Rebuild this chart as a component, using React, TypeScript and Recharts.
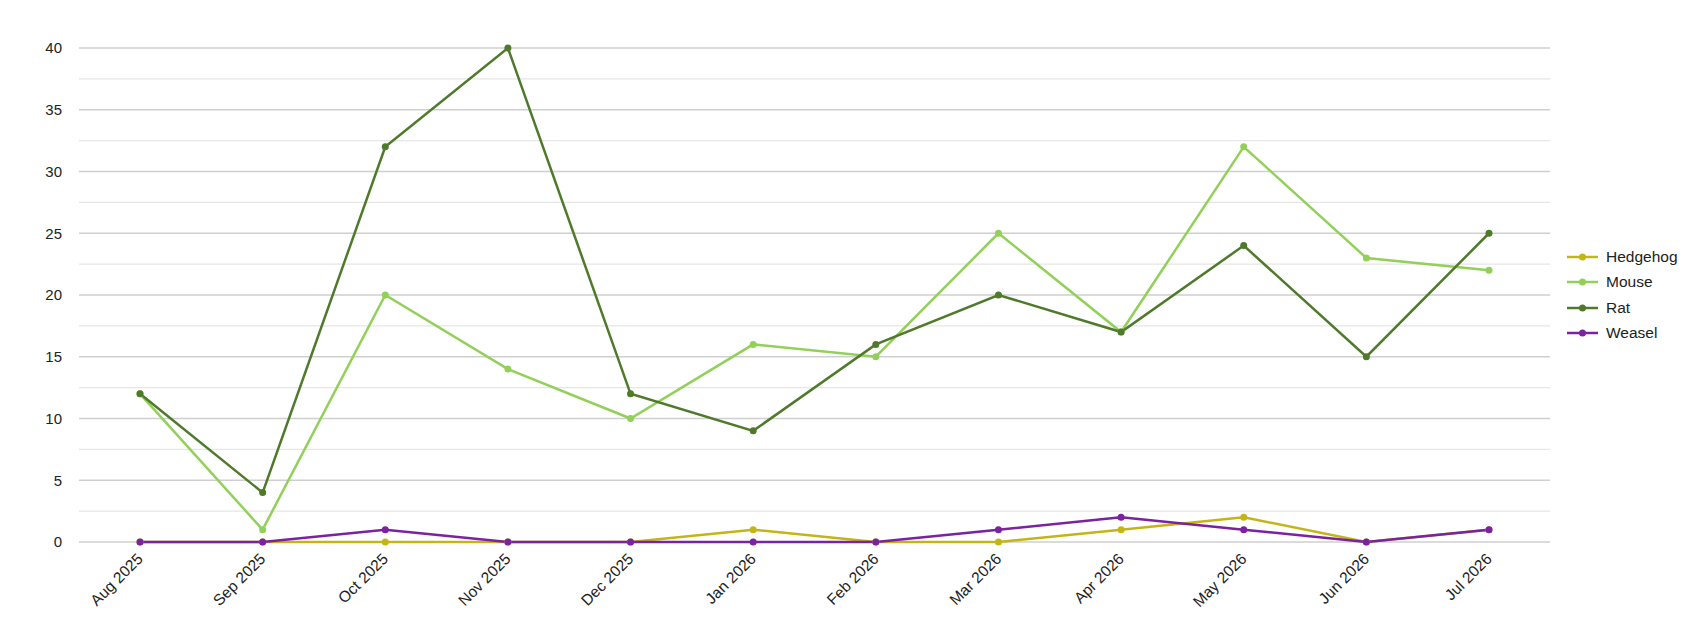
import React from "react"
import { CartesianGrid, Line, LineChart, ReferenceLine, XAxis, YAxis } from "recharts"

const months = ["Aug 2025", "Sep 2025", "Oct 2025", "Nov 2025", "Dec 2025", "Jan 2026", "Feb 2026", "Mar 2026", "Apr 2026", "May 2026", "Jun 2026", "Jul 2026"]
const hedgehog = [0, 0, 0, 0, 0, 1, 0, 0, 1, 2, 0, 1]
const mouse = [12, 1, 20, 14, 10, 16, 15, 25, 17, 32, 23, 22]
const rat = [12, 4, 32, 40, 12, 9, 16, 20, 17, 24, 15, 25]
const weasel = [0, 0, 1, 0, 0, 0, 0, 1, 2, 1, 0, 1]
const yTicks = [0, 5, 10, 15, 20, 25, 30, 35, 40]
const minorTicks = [2.5, 7.5, 12.5, 17.5, 22.5, 27.5, 32.5, 37.5]

const series = [
    { key: "Hedgehog", values: hedgehog, color: "#c4b517" },
    { key: "Mouse", values: mouse, color: "#92d05a" },
    { key: "Rat", values: rat, color: "#4f7a2c" },
    { key: "Weasel", values: weasel, color: "#7a22a0" },
]

const data = months.map((m, i) => {
    const row: any = { month: m }
    series.forEach((s) => { row[s.key] = s.values[i] })
    return row
})

const FONT = "'Liberation Sans', Arial, sans-serif"

// étiquettes inclinées à -45°
const MonthTick = ({ x, y, payload }: any) => (
    <g transform={`translate(${x - 4},${y})`}>
        <text textAnchor="end" dy="0.71em" transform="rotate(-45)" fill="#222" fontSize={15.5} fontFamily={FONT}>
            {payload.value}
        </text>
    </g>
)

export default function App() {
    return (
        <div style={{ position: "relative", width: 1690, height: 622 }}>
            <LineChart width={1690} height={622} data={data} margin={{ top: 40, right: 148, bottom: 28, left: 0 }}>
                {minorTicks.map((v) => (
                    <ReferenceLine key={v} y={v} stroke="#e6e6e6" strokeWidth={1.2} />
                ))}
                <CartesianGrid vertical={false} stroke="#cfcfcf" strokeWidth={1.3} />
                <XAxis
                    dataKey="month"
                    height={60}
                    axisLine={false}
                    tickLine={false}
                    tickSize={0}
                    tickMargin={10}
                    interval={0}
                    padding={{ left: 61, right: 61 }}
                    tick={<MonthTick />}
                />
                <YAxis
                    width={71}
                    domain={[0, 40]}
                    ticks={yTicks}
                    axisLine={false}
                    tickLine={false}
                    tickSize={0}
                    tickMargin={17}
                    tick={{ fill: "#222", fontSize: 15, fontFamily: FONT }}
                />
                {series.map((s) => (
                    <Line
                        key={s.key}
                        type="linear"
                        dataKey={s.key}
                        stroke={s.color}
                        strokeWidth={2.5}
                        dot={{ r: 3.5, fill: s.color, stroke: s.color, strokeWidth: 0 }}
                        activeDot={false}
                        isAnimationActive={false}
                    />
                ))}
            </LineChart>
            <div style={{ position: "absolute", left: 1559, top: 236, fontFamily: FONT, fontSize: 15.5, color: "#222" }}>
                {series.map((s) => (
                    <div key={s.key} style={{ display: "flex", alignItems: "center", height: 25.5 }}>
                        <svg width={31} height={10} style={{ marginRight: 8 }}>
                            <line x1={0} y1={5} x2={31} y2={5} stroke={s.color} strokeWidth={2.5} />
                            <circle cx={15.5} cy={5} r={3.5} fill={s.color} />
                        </svg>
                        {s.key}
                    </div>
                ))}
            </div>
        </div>
    )
}
